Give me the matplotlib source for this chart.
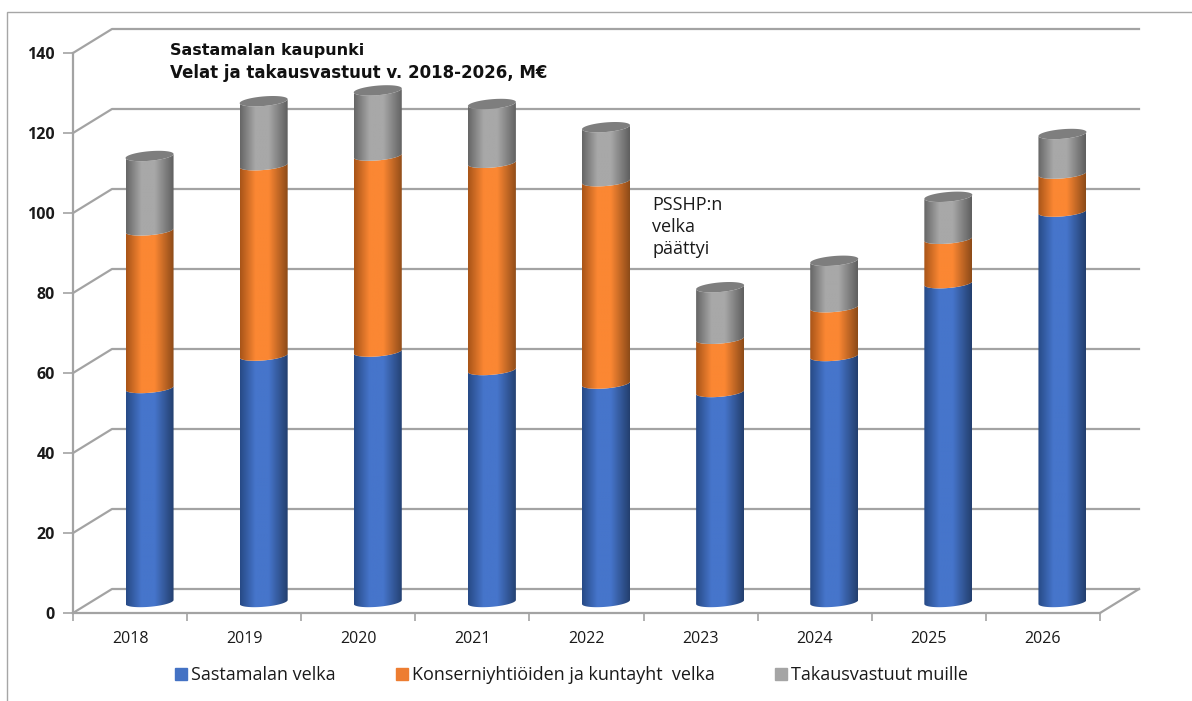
# plot.py
# Sastamala debts and guarantees 2018-2026, drawn as Excel style 3D cylinders

import numpy as np
import matplotlib
matplotlib.use("Agg")
import matplotlib.pyplot as plt
from matplotlib.colors import LinearSegmentedColormap
from matplotlib.patches import Patch, PathPatch, Rectangle
from matplotlib.path import Path

# data, M EUR
years = ["2018", "2019", "2020", "2021", "2022", "2023", "2024", "2025", "2026"]
sastamala = [53.5, 61.6, 62.6, 58.0, 54.6, 52.5, 61.5, 79.7, 97.6]
konserni = [39.4, 47.6, 49.0, 51.8, 50.6, 13.3, 12.2, 11.1, 9.5]
takaus = [18.6, 16.0, 16.3, 14.7, 13.5, 12.9, 11.6, 10.5, 9.9]
yticks = [0, 20, 40, 60, 80, 100, 120, 140]
labels = ["Sastamalan velka", "Konserniyhtiöiden ja kuntayht  velka", "Takausvastuut muille"]

W, H = 1192, 701
GRID = "#a3a3a3"
TEXT = "#1a1a1a"

fig = plt.figure(figsize=(W / 100, H / 100), dpi=100)
ax = fig.add_axes([73 / W, 1 - 613 / H, (1100 - 73) / W, (613 - 53) / H])
ax.set_xlim(-0.5, 8.5)
ax.set_ylim(0, 140)
ax.patch.set_visible(False)

# pixel sizes turned into data units
px_x = 9 / (1100 - 73)
px_y = 140 / (613 - 53)
depth_x = 39 * px_x
depth_y = 24 * px_y


def make_cmap(edge_l, mid, edge_r):
    return LinearSegmentedColormap.from_list("c", [(0, edge_l), (0.32, mid), (0.6, mid), (1, edge_r)])


cmaps = [
    make_cmap("#274a86", "#4675cb", "#233f6e"),
    make_cmap("#a85418", "#fb8733", "#8c4a18"),
    make_cmap("#666666", "#a8a8a8", "#5f5f5f"),
]
grad = np.linspace(0, 1, 128).reshape(1, -1)


def front_arc(xc, yc):
    # lower half of the tilted ellipse, left to right
    t = np.linspace(np.pi, 2 * np.pi, 40)
    return xc + 24 * px_x * np.cos(t), yc + (4.8 * np.sin(t) + 2.0 * np.cos(t)) * px_y


def fill_gradient(path, xc, cmap, ymin, ymax, z):
    im = ax.imshow(grad, extent=[xc - 24 * px_x, xc + 24 * px_x, ymin, ymax], cmap=cmap,
                   aspect="auto", zorder=z, vmin=0, vmax=1)
    patch = PathPatch(path, transform=ax.transData, facecolor="none", edgecolor="none")
    ax.add_patch(patch)
    im.set_clip_path(patch)


# back wall and side lines
for v in yticks:
    ax.plot([-0.5, -0.5 + depth_x, 8.5 + depth_x], [v, v + depth_y, v + depth_y],
            color=GRID, lw=1.6, clip_on=False, zorder=1)
ax.plot([8.5, 8.5 + depth_x], [0, depth_y], color=GRID, lw=1.6, clip_on=False, zorder=1)

# cylinders
for i in range(len(years)):
    xc = i + depth_x / 2
    y0 = 11 * px_y
    bottom = 0
    for j, seg in enumerate([sastamala[i], konserni[i], takaus[i]]):
        top = bottom + seg
        x1, y1 = front_arc(xc, bottom + y0)
        x2, y2 = front_arc(xc, top + y0)
        verts = np.vstack([np.column_stack([x1, y1]), np.column_stack([x2[::-1], y2[::-1]]), [[x1[0], y1[0]]]])
        codes = [Path.MOVETO] + [Path.LINETO] * (len(verts) - 2) + [Path.CLOSEPOLY]
        fill_gradient(Path(verts, codes), xc, cmaps[j], bottom + y0 - 8 * px_y, top + y0 + 8 * px_y, 3 + j)
        bottom = top
    # top cap
    t = np.linspace(0, 2 * np.pi, 80)
    cx = xc + 24 * px_x * np.cos(t)
    cy = bottom + y0 + (4.8 * np.sin(t) + 2.0 * np.cos(t)) * px_y
    ax.fill(cx, cy, color="#7e7e7e", lw=0, zorder=7)

ax.set_xlim(-0.5, 8.5)
ax.set_ylim(0, 140)

# axes
for s in ["top", "right"]:
    ax.spines[s].set_visible(False)
for s in ["left", "bottom"]:
    ax.spines[s].set_color(GRID)
    ax.spines[s].set_linewidth(1.6)
ax.set_yticks(yticks)
ax.set_yticklabels([str(v) for v in yticks], fontfamily="Open Sans", fontweight="bold", fontsize=11.5, color=TEXT)
ax.set_xticks(np.arange(-0.5, 9))
ax.set_xticklabels([])
ax.set_xticks(np.arange(9), minor=True)
ax.set_xticklabels(years, minor=True, fontfamily="Open Sans", fontsize=11.5, color=TEXT)
ax.tick_params(axis="y", length=7, width=1.2, color=GRID, pad=6)
ax.tick_params(axis="x", which="major", length=6, width=1.2, color=GRID)
ax.tick_params(axis="x", which="minor", length=0, pad=13)

# texts
fig.text(170 / W, 1 - 50 / H, "Sastamalan kaupunki", fontfamily="DejaVu Sans", fontweight="bold",
         fontsize=11.5, color="#111111", va="center")
fig.text(170 / W, 1 - 73 / H, "Velat ja takausvastuut v. 2018-2026, M€", fontfamily="DejaVu Sans", fontweight="bold",
         fontsize=12, color="#111111", va="center")
for txt, ypx in zip(["PSSHP:n", "velka", "päättyi"], [205, 227, 249]):
    fig.text(652 / W, 1 - ypx / H, txt, fontfamily="Open Sans", fontsize=13, color=TEXT, va="center")

# legend
handles = [Patch(color=c) for c in ["#4472c4", "#ed7d31", "#a5a5a5"]]
fig.legend(handles, labels, loc="center", bbox_to_anchor=(571.5 / W, 1 - 675 / H), ncol=3, frameon=False,
           prop={"family": "Open Sans", "size": 13}, handlelength=0.67, handleheight=0.67,
           handletextpad=0.25, columnspacing=3.3, labelcolor=TEXT)

# outer frame
fig.add_artist(Rectangle((7 / W, -0.01), 1.1, 1 - 12 / H + 0.01, transform=fig.transFigure,
                         facecolor="none", edgecolor="#a6a6a6", lw=1))

fig.savefig("out.png", dpi=100)
